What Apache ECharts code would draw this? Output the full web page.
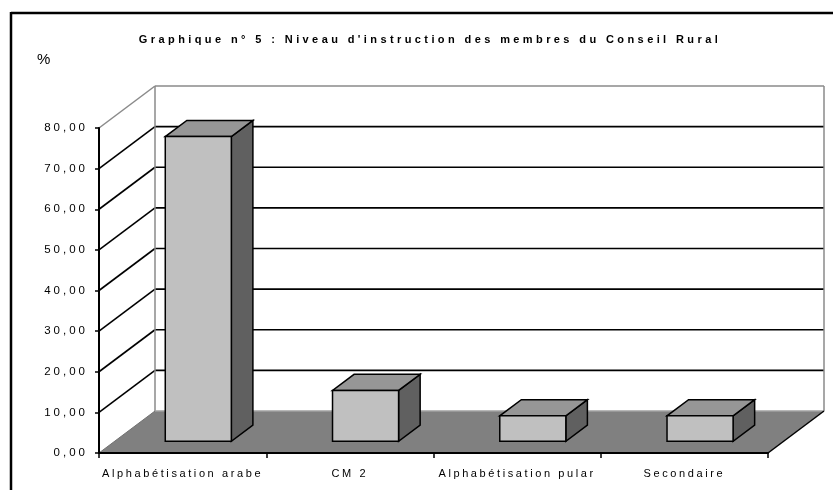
<!DOCTYPE html>
<html><head><meta charset="utf-8">
<script src="https://cdn.jsdelivr.net/npm/echarts@6/dist/echarts.min.js"></script>
<style>html,body{margin:0;padding:0;background:#fff}#c{width:833px;height:490px}</style>
</head><body><div id="c"></div>
<script>
const categories = ['Alphabétisation arabe', 'CM 2', 'Alphabétisation pular', 'Secondaire'];
const values = [75, 12.5, 6.25, 6.25];
const yTicks = [0, 10, 20, 30, 40, 50, 60, 70, 80];
const titleText = "Graphique n° 5 : Niveau d'instruction des membres du Conseil Rural";
const unitLabel = '%';

// wide letter spacing like the original rendering
(function () {
  const P = CanvasRenderingContext2D.prototype;
  const orig = P.fillText;
  P.fillText = function (t, x, y, mw) {
    const prev = this.letterSpacing;
    let sp = '2.6px';
    if (/bold/.test(this.font)) sp = '3.4px';
    else if (/11\.5px/.test(this.font)) sp = '3px';
    try { this.letterSpacing = sp; } catch (e) {}
    const r = (mw === undefined) ? orig.call(this, t, x, y) : orig.call(this, t, x, y, mw);
    try { this.letterSpacing = prev; } catch (e) {}
    return r;
  };
})();

const DX = 56, DY = -42;        // depth of the 3D box (pixels)
const F0 = 0.28, F1 = 0.665;    // bar depth position (fraction of depth)
const BAR = 0.395;              // bar width as fraction of category band
const yMax = yTicks[yTicks.length - 1];

const chart = echarts.init(document.getElementById('c'), null, {renderer: 'canvas'});

function renderWalls(params, api) {
  const cs = params.coordSys;
  const x0 = cs.x, x1 = cs.x + cs.width;
  const yOf = v => api.coord([0, v])[1];
  const y0 = yOf(0), yT = yOf(yMax);
  const ch = [];
  ch.push({type: 'polygon', shape: {points: [[x0, y0], [x1, y0], [x1 + DX, y0 + DY], [x0 + DX, y0 + DY]]},
    style: {fill: '#808080', stroke: null}});
  yTicks.forEach(v => {
    if (v === 0) return;
    const y = yOf(v);
    const col = v === yMax ? '#8a8a8a' : '#000';
    const lw = v === yMax ? 1.5 : 1.6;
    ch.push({type: 'line', shape: {x1: x0 + DX, y1: y + DY, x2: x1 + DX, y2: y + DY}, style: {stroke: col, lineWidth: lw}});
    ch.push({type: 'line', shape: {x1: x0, y1: y, x2: x0 + DX, y2: y + DY}, style: {stroke: col, lineWidth: lw}});
  });
  ch.push({type: 'line', shape: {x1: x0 + DX, y1: y0 + DY, x2: x0 + DX, y2: yT + DY}, style: {stroke: '#8a8a8a', lineWidth: 1.5}});
  ch.push({type: 'line', shape: {x1: x1 + DX, y1: y0 + DY, x2: x1 + DX, y2: yT + DY}, style: {stroke: '#8a8a8a', lineWidth: 1.5}});
  ch.push({type: 'line', shape: {x1: x0 + DX, y1: y0 + DY, x2: x1 + DX, y2: y0 + DY}, style: {stroke: '#a0a0a0', lineWidth: 1.5}});
  ch.push({type: 'line', shape: {x1: x0, y1: y0, x2: x0 + DX, y2: y0 + DY}, style: {stroke: '#707070', lineWidth: 1}});
  ch.push({type: 'line', shape: {x1: x1, y1: y0, x2: x1 + DX, y2: y0 + DY}, style: {stroke: '#000', lineWidth: 1.5}});
  return {type: 'group', children: ch};
}

function renderBar(params, api) {
  const c0 = api.coord([api.value(0), 0]);
  const c1 = api.coord([api.value(0), api.value(1)]);
  const w = api.size([1, 0])[0] * BAR;
  const fx = c0[0] + DX * F0 - w / 2;
  const fyB = c0[1] + DY * F0, fyT = c1[1] + DY * F0;
  const ddx = DX * (F1 - F0), ddy = DY * (F1 - F0);
  const st = {stroke: '#000', lineWidth: 1.5, lineJoin: 'miter'};
  return {type: 'group', children: [
    {type: 'polygon', shape: {points: [[fx + w, fyT], [fx + w + ddx, fyT + ddy], [fx + w + ddx, fyB + ddy], [fx + w, fyB]]},
      style: Object.assign({fill: '#606060'}, st)},
    {type: 'polygon', shape: {points: [[fx, fyT], [fx + w, fyT], [fx + w + ddx, fyT + ddy], [fx + ddx, fyT + ddy]]},
      style: Object.assign({fill: '#969696'}, st)},
    {type: 'rect', shape: {x: fx, y: fyT, width: w, height: fyB - fyT},
      style: Object.assign({fill: '#c0c0c0'}, st)}
  ]};
}

const FONT = 'Liberation Sans, Arial, sans-serif';
chart.setOption({
  animation: false,
  backgroundColor: '#fff',
  title: [
    {text: titleText, left: 425, top: 29, textAlign: 'center',
      textStyle: {fontFamily: FONT, fontSize: 11, fontWeight: 'bold', color: '#000'}},
    {text: unitLabel, left: 32, top: 47,
      textStyle: {fontFamily: FONT, fontSize: 15, fontWeight: 'normal', color: '#000'}}
  ],
  graphic: [
    {type: 'line', shape: {x1: 11, y1: 13, x2: 833, y2: 13}, style: {stroke: '#000', lineWidth: 2.5}, z: 100},
    {type: 'line', shape: {x1: 11, y1: 12, x2: 11, y2: 490}, style: {stroke: '#000', lineWidth: 2.5}, z: 100}
  ],
  grid: {left: 99, right: 65, top: 128, bottom: 37, containLabel: false},
  xAxis: {
    type: 'category', data: categories, z: 10,
    axisLine: {lineStyle: {color: '#000', width: 2}},
    axisTick: {show: true, length: 5, lineStyle: {color: '#000', width: 1.5}},
    axisLabel: {fontFamily: FONT, fontSize: 11, color: '#000', margin: 15, interval: 0},
    splitLine: {show: false}
  },
  yAxis: {
    type: 'value', min: 0, max: yMax, interval: 10, z: 10,
    axisLine: {show: true, lineStyle: {color: '#000', width: 2}},
    axisTick: {show: true, length: 4, lineStyle: {color: '#000', width: 1.5}},
    axisLabel: {fontFamily: FONT, fontSize: 11.5, color: '#000', margin: 11,
      formatter: v => v.toFixed(2).replace('.', ',')},
    splitLine: {show: false}
  },
  series: [
    {type: 'custom', renderItem: renderWalls, data: [[0, 0]], z: 1, silent: true, clip: false},
    {type: 'custom', renderItem: renderBar, data: values.map((v, i) => [i, v]), z: 3, clip: false,
      encode: {x: 0, y: 1}}
  ]
});
</script>
</body></html>
